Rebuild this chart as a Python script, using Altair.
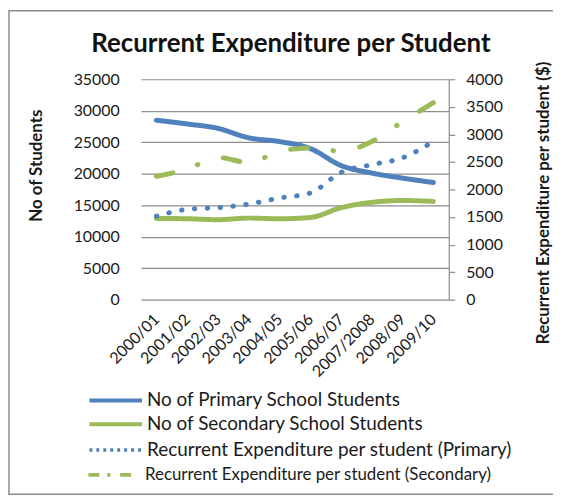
import altair as alt
import pandas as pd

years = ["2000/01", "2001/02", "2002/03", "2003/04", "2004/05",
         "2005/06", "2006/07", "2007/2008", "2008/09", "2009/10"]
primary_students = [28500, 27900, 27200, 25700, 25100, 24000, 21300, 20100, 19300, 18600]
secondary_students = [12900, 12850, 12700, 12950, 12850, 13050, 14600, 15450, 15750, 15600]
exp_primary = [1515, 1640, 1670, 1735, 1845, 1935, 2310, 2450, 2575, 2870]
exp_secondary = [2240, 2370, 2580, 2490, 2690, 2755, 2695, 2870, 3230, 3575]

series_names = ["No of Primary School Students",
                "No of Secondary School Students",
                "Recurrent Expenditure per student (Primary)",
                "Recurrent Expenditure  per student (Secondary)"]
series_values = [primary_students, secondary_students, exp_primary, exp_secondary]

# styles
colors = ["#4F81BD", "#9BBB59", "#4F81BD", "#9BBB59"]
line_dashes = [[1, 0], [1, 0], [0.5, 12.5], [17, 26, 0.5, 27]]
legend_dashes = [[1, 0], [1, 0], [3, 4], [11, 8, 3, 10]]
legend_paths = ["M-5.3,0H5.3", "M-5.3,0H5.3", "M-5.3,0H5.3", "M-5.3,0H3.3"]
legend_widths = [4, 4, 3.5, 4]
legend_fonts = [19, 19, 19, 17]
legend_rows = [314, 338, 364, 390]

rows = []
for name, vals in zip(series_names, series_values):
    for i, (yr, v) in enumerate(zip(years, vals)):
        rows.append({"year": yr, "series": name, "value": v, "order": i})
df = pd.DataFrame(rows)

FONT = "Lato"
TXT = "#1a1a1a"
GRID = "#8c8c8c"

xenc = alt.X("year:N", sort=years, scale=alt.Scale(domain=years),
             axis=alt.Axis(title=None, labelAngle=-45, labelAlign="right",
                           labelBaseline="middle", labelPadding=17,
                           ticks=False, domain=False, grid=False,
                           labelFont=FONT, labelFontSize=16, labelColor=TXT))

left_y = alt.Y("value:Q", scale=alt.Scale(domain=[0, 35000], nice=False),
               axis=alt.Axis(title="No of Students", values=list(range(0, 35001, 5000)),
                             format="d",
                             grid=True, gridColor=GRID, gridWidth=1.2,
                             domain=False, ticks=False, labelPadding=22,
                             labelFont=FONT, labelFontSize=16, labelColor=TXT,
                             titleFont=FONT, titleFontSize=17, titleFontWeight="bold",
                             titleColor=TXT, titleAngle=270, titleX=-105, titleY=86.5,
                             titleAlign="center", titleBaseline="middle"))

right_y = alt.Y("value:Q", scale=alt.Scale(domain=[0, 4000], nice=False),
                axis=alt.Axis(orient="right", title="Recurrent Expenditure per student ($)",
                              values=list(range(0, 4001, 500)), grid=False, format="d",
                              domain=True, domainColor=GRID, domainWidth=1.2,
                              ticks=True, tickColor=GRID, tickSize=6, tickWidth=1.2,
                              labelPadding=11,
                              labelFont=FONT, labelFontSize=16, labelColor=TXT,
                              titleFont=FONT, titleFontSize=17, titleFontWeight="bold",
                              titleColor=TXT, titleAngle=270, titleX=95, titleY=124,
                              titleAlign="center", titleBaseline="middle"))


def series_layer(k, yenc):
    name = series_names[k]
    legend = alt.Legend(
        title=None, orient="none", legendX=-35, legendY=legend_rows[k],
        symbolType=legend_paths[k], symbolSize=100,
        symbolStrokeWidth=legend_widths[k], symbolDash=legend_dashes[k],
        labelFont=FONT, labelFontSize=legend_fonts[k], labelColor=TXT,
        labelLimit=0, labelOffset=22,
    )
    return alt.Chart(df).transform_filter(
        alt.FieldEqualPredicate(field="series", equal=name)
    ).mark_line(strokeWidth=5, strokeCap="round", interpolate="monotone",
                strokeDash=line_dashes[k]).encode(
        x=xenc,
        y=yenc,
        color=alt.Color("series:N",
                        scale=alt.Scale(domain=[name], range=[colors[k]]),
                        legend=legend),
        order="order:Q",
    )


left = alt.layer(series_layer(0, left_y), series_layer(1, left_y)).resolve_scale(
    color="independent")
right = alt.layer(series_layer(2, right_y), series_layer(3, right_y)).resolve_scale(
    color="independent")

frame = alt.Chart(pd.DataFrame({"k": [0]})).mark_rect(
    fill=None, stroke="#8c8c8c", strokeWidth=1.5
).encode(x=alt.value(-133), x2=alt.value(440), y=alt.value(-69), y2=alt.value(418))

chart = alt.layer(frame, left, right).resolve_scale(
    y="independent", color="independent"
).properties(
    width=310, height=222,
    autosize=alt.AutoSizeParams(type="none"),
    padding={"left": 134, "top": 70, "right": 105, "bottom": 197},
    title=alt.TitleParams("Recurrent Expenditure per Student", font=FONT,
                          fontSize=26, fontWeight="bold", color="#111",
                          anchor="middle", dx=-4, offset=-47),
).configure_view(stroke=None)

chart.save("out.html", embed_options={"renderer": "svg", "actions": False})
